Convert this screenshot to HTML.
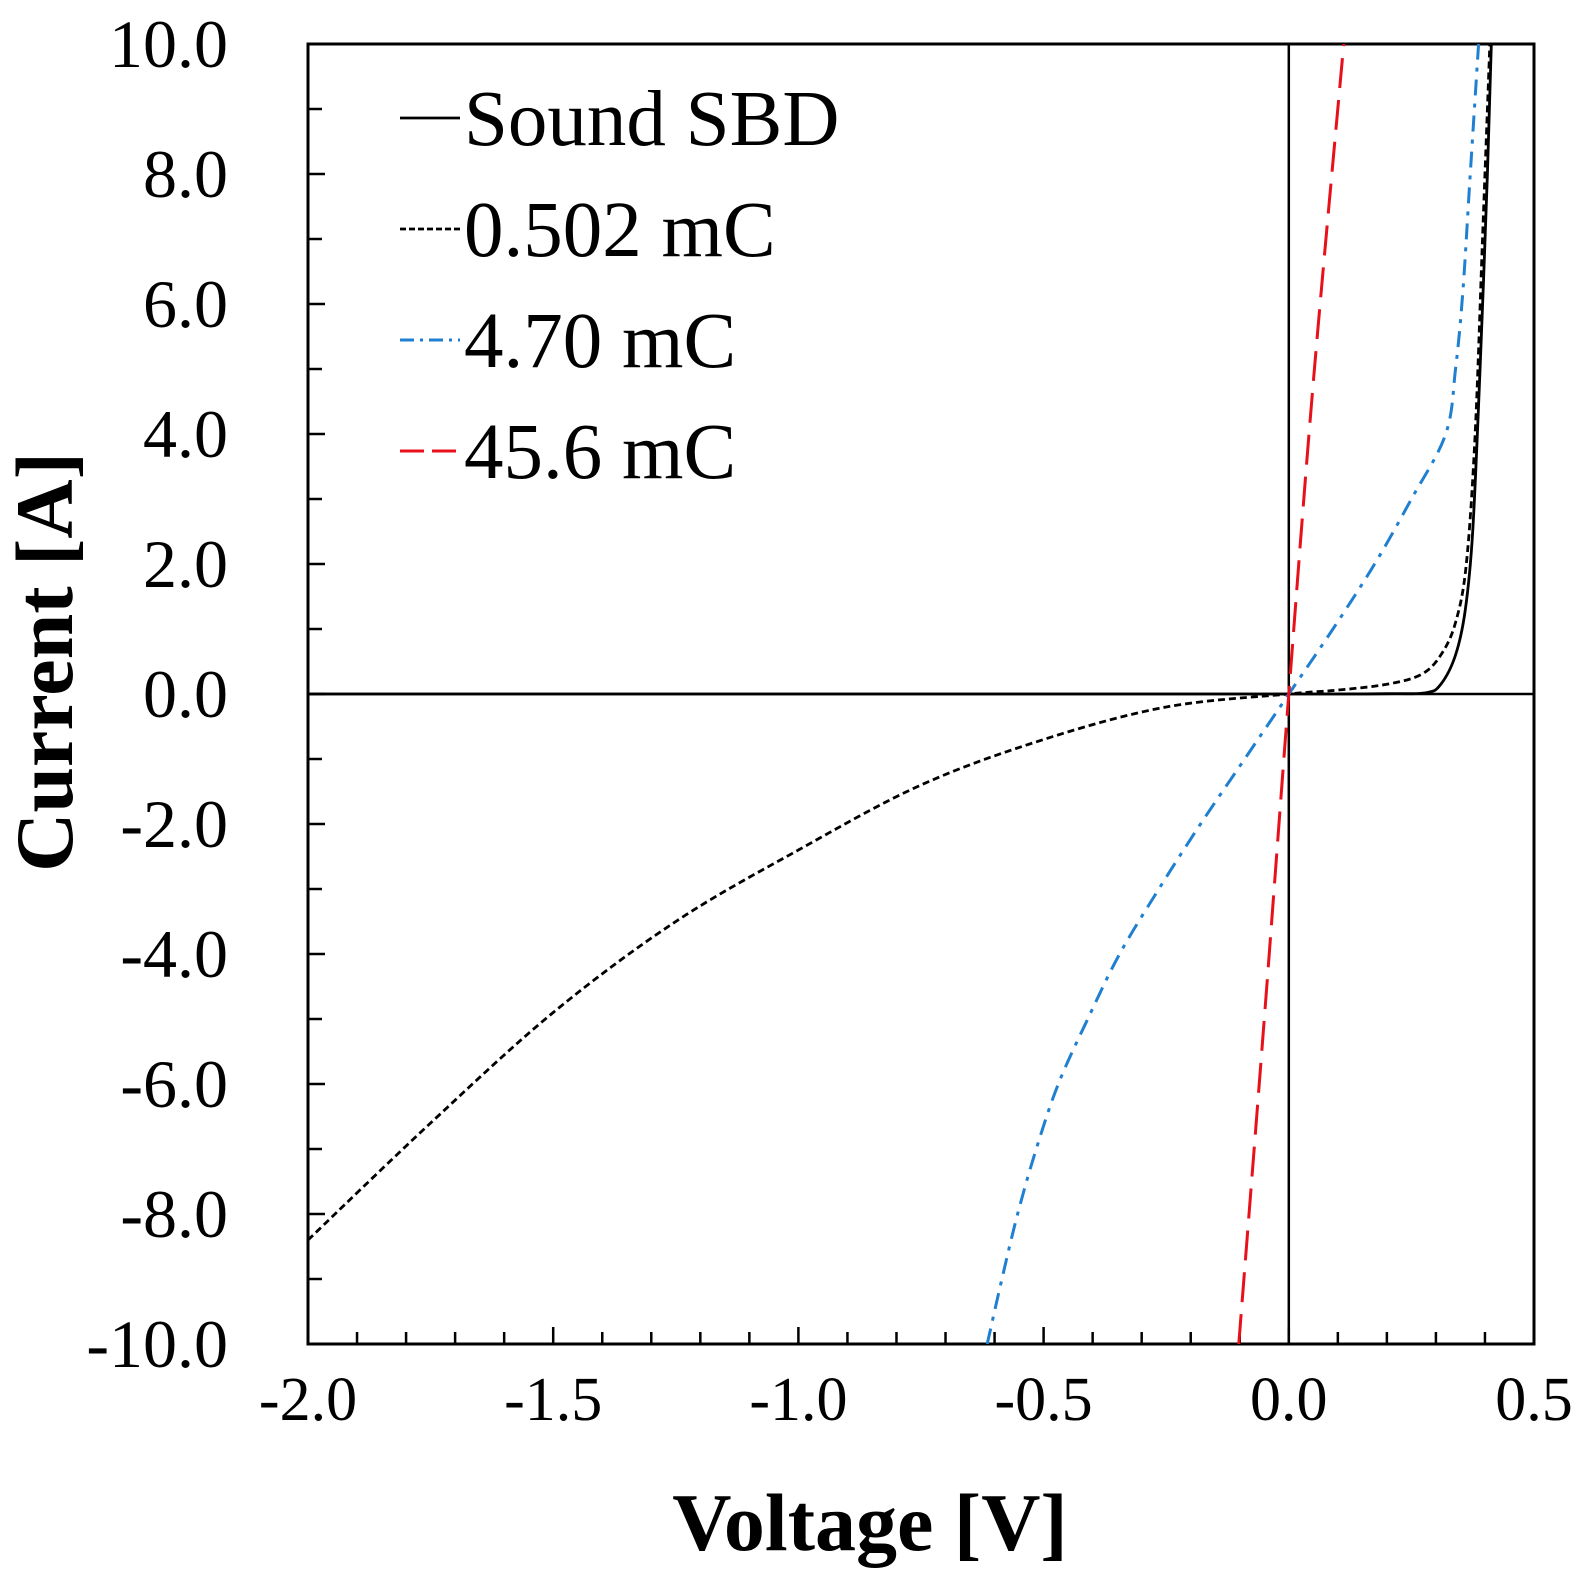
<!DOCTYPE html>
<html><head><meta charset="utf-8"><style>
html,body{margin:0;padding:0;background:#fff}
svg{display:block}
text{font-family:"Liberation Serif",serif;fill:#000}
</style></head><body>
<svg id="chart" width="1578" height="1595" viewBox="0 0 1578 1595"></svg>
<script>
const xTicks=[-2.0,-1.5,-1.0,-0.5,0.0,0.5];
const xTickLabels=["-2.0","-1.5","-1.0","-0.5","0.0","0.5"];
const yTicks=[10,8,6,4,2,0,-2,-4,-6,-8,-10];
const yTickLabels=["10.0","8.0","6.0","4.0","2.0","0.0","-2.0","-4.0","-6.0","-8.0","-10.0"];
const seriesNames=["Sound SBD","0.502 mC","4.70 mC","45.6 mC"];
const soundV=[-2,-1,0,0.2,0.28,0.31,0.34,0.36,0.375,0.39,0.405,0.413];
const soundI=[0,0,0,0.005,0.02,0.15,0.6,1.3,2.5,5,8,10];
const c502V=[-2,-1.75,-1.5,-1.25,-1,-0.75,-0.5,-0.25,0,0.1,0.2,0.27,0.31,0.34,0.362,0.38,0.395,0.41];
const c502I=[-8.4,-6.6,-4.9,-3.5,-2.4,-1.4,-0.7,-0.2,0,0.06,0.15,0.3,0.6,1.1,2,4,7,10];
const c470V=[-0.615,-0.585,-0.553,-0.515,-0.47,-0.41,-0.345,-0.265,-0.18,-0.09,0,0.09,0.175,0.25,0.32,0.34,0.355,0.37,0.387];
const c470I=[-10,-9,-8,-7,-6,-5,-4,-3,-2,-1,0,1,2,3,4,5,6.2,8,10];
const c456V=[-0.102,-0.05,0,0.05,0.112];
const c456I=[-10,-5,0,4.8,10];

const L=308,R=1534,T=44,B=1344;
const X=v=>L+(v+2)/2.5*(R-L);
const Y=i=>T+(10-i)/20*(B-T);
const svg=document.getElementById('chart');
const NS="http://www.w3.org/2000/svg";
function mk(tag,attrs,parent){const e=document.createElementNS(NS,tag);for(const k in attrs)e.setAttribute(k,attrs[k]);(parent||svg).appendChild(e);return e;}

const defs=mk('defs',{});
const cp=mk('clipPath',{id:'clip'},defs);
mk('rect',{x:L,y:T,width:R-L,height:B-T},cp);

const frame=mk('rect',{x:L,y:T,width:R-L,height:B-T,fill:'none',stroke:'#000','stroke-width':3});



const zx=mk('line',{x1:X(0),x2:X(0),y1:T,y2:B,stroke:'#000','stroke-width':2.5});


const zy=mk('line',{x1:L,x2:R,y1:Y(0),y2:Y(0),stroke:'#000','stroke-width':2.5});



for(let k=-20;k<=5;k++){const v=k/10;const major=(k%5===0);
  const t=mk('line',{x1:X(v),x2:X(v),y1:B,y2:B-(major?17:12),stroke:'#000','stroke-width':2.5});
  
  }
xTicks.forEach((v,i)=>{const t=mk('text',{x:X(v),y:1420,'font-size':62,'text-anchor':'middle'});t.textContent=xTickLabels[i];
  
  });
for(let k=-10;k<=10;k++){const major=(k%2===0);
  const t=mk('line',{x1:L,x2:L+(major?17:14),y1:Y(k),y2:Y(k),stroke:'#000','stroke-width':2.5});
  
  }
yTicks.forEach((v,i)=>{const t=mk('text',{x:228,y:Y(v)+23,'font-size':68,'text-anchor':'end'});t.textContent=yTickLabels[i];
  
  });

const xt=mk('text',{x:870,y:1550,'font-size':82,'font-weight':'bold','text-anchor':'middle'});xt.textContent="Voltage [V]";


const yt=mk('text',{x:0,y:0,'font-size':82,'font-weight':'bold','text-anchor':'middle',transform:'translate(72,662) rotate(-90)'});yt.textContent="Current [A]";



function pathFrom(vs,is){const p=vs.map((v,i)=>[X(v),Y(is[i])]);let d=`M${p[0][0]},${p[0][1]}`;
  for(let i=0;i<p.length-1;i++){const p0=p[i-1]||p[i],p1=p[i],p2=p[i+1],p3=p[i+2]||p2;
    const c1=[p1[0]+(p2[0]-p0[0])/6,p1[1]+(p2[1]-p0[1])/6],c2=[p2[0]-(p3[0]-p1[0])/6,p2[1]-(p3[1]-p1[1])/6];
    d+=` C${c1[0]},${c1[1]} ${c2[0]},${c2[1]} ${p2[0]},${p2[1]}`;}return d;}
const styles=[
 {c:'#000',w:2.8,dash:'',ld:'',name:'sound-sbd-curve',vs:soundV,is:soundI},
 {c:'#000',w:2.8,dash:'7 4',ld:'6 3',name:'curve-0502mc',vs:c502V,is:c502I},
 {c:'#1f7fd0',w:3,dash:'16 8 4 8',ld:'14 6 3 6',name:'curve-470mc',vs:c470V,is:c470I},
 {c:'#e8101a',w:3,dash:'30 12',ld:'24 8',name:'curve-456mc',vs:c456V,is:c456I}];
const g=mk('g',{'clip-path':'url(#clip)'});
styles.forEach(s=>{const p=mk('path',{d:pathFrom(s.vs,s.is),fill:'none',stroke:s.c,'stroke-width':s.w,'stroke-dasharray':s.dash},g);
  
  });

const legY=[118,229,340,451];
styles.forEach((s,i)=>{
  const l=mk('line',{x1:400,x2:460,y1:legY[i],y2:legY[i],stroke:s.c,'stroke-width':s.w,'stroke-dasharray':s.ld});
  
  
  const t=mk('text',{x:464,y:legY[i]+27,'font-size':79});t.textContent=seriesNames[i];
  
  });
</script>
</body></html>
